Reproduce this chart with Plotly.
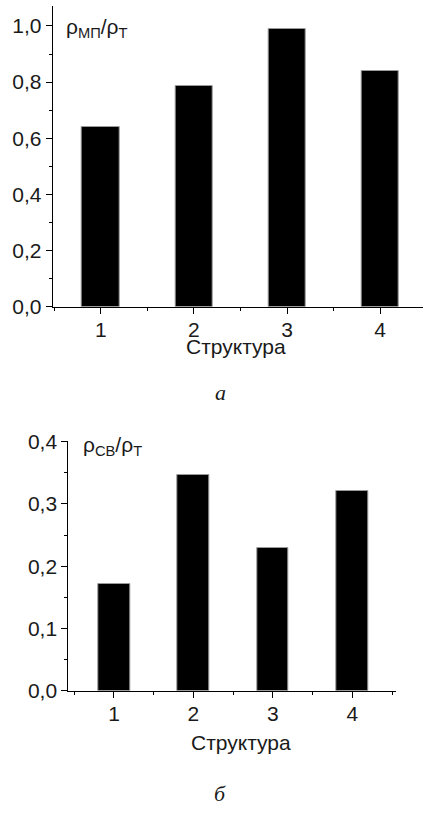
import plotly.graph_objects as go

W, H = 423, 814

structures = [1, 2, 3, 4]
tick_labels = ["1", "2", "3", "4"]
rho_mp = [0.639, 0.785, 0.990, 0.841]
rho_sv = [0.171, 0.346, 0.229, 0.320]
y_ticks_a = [0.0, 0.2, 0.4, 0.6, 0.8, 1.0]
y_ticks_b = [0.0, 0.1, 0.2, 0.3, 0.4]
x_title = "Структура"
y_title_a = "ρ<sub>МП</sub>/ρ<sub>Т</sub>"
y_title_b = "ρ<sub>СВ</sub>/ρ<sub>Т</sub>"
panel_a = "a"
panel_b = "б"

FONT = "Liberation Sans, Arial, sans-serif"
FS = 21


def px_x(x):
    return x / W


def px_y(y):
    return 1 - y / H


fig = go.Figure()
bar_style = dict(marker=dict(color="black", line=dict(color="#9a9a9a", width=1)),
                 width=0.4, showlegend=False, hoverinfo="skip")
fig.add_trace(go.Bar(x=structures, y=rho_mp, xaxis="x", yaxis="y", **bar_style))
fig.add_trace(go.Bar(x=structures, y=rho_sv, xaxis="x2", yaxis="y2", **bar_style))

common_x = dict(
    showline=True, linecolor="black", linewidth=1, showgrid=False, zeroline=False,
    ticks="outside", ticklen=6, tickwidth=1, tickcolor="black",
    tickvals=structures, ticktext=tick_labels,
    tickfont=dict(family=FONT, size=FS, color="#1a1a1a"),
    ticklabelstandoff=-2,
    minor=dict(ticks="outside", ticklen=3, tickwidth=1, tickcolor="black",
               tick0=0.5, dtick=0.5, showgrid=False),
    automargin=False, fixedrange=True,
)
common_y = dict(
    showline=True, linecolor="black", linewidth=1, showgrid=False, zeroline=False,
    ticks="outside", ticklen=6, tickwidth=1, tickcolor="black",
    tickformat=".1f",
    tickfont=dict(family=FONT, size=FS, color="#1a1a1a"),
    automargin=False, fixedrange=True,
)

# top panel plot area (pixels): x 52.7..423, y 6..306.7
fig.update_layout(
    xaxis=dict(domain=[px_x(52.7), 1.0], range=[0.484, 4.46], anchor="y", **common_x),
    yaxis=dict(domain=[px_y(306.7), px_y(6)], range=[0, 1.071], anchor="x",
               tickvals=y_ticks_a,
               minor=dict(ticks="outside", ticklen=3, tickwidth=1, tickcolor="black",
                          tick0=0, dtick=0.1, showgrid=False),
               **common_y),
    xaxis2=dict(domain=[px_x(68.3), px_x(396)], range=[0.425, 4.55], anchor="y2", **common_x),
    yaxis2=dict(domain=[px_y(690.7), px_y(441)], range=[0, 0.401], anchor="x2",
                tickvals=y_ticks_b,
                minor=dict(ticks="outside", ticklen=3, tickwidth=1, tickcolor="black",
                           tick0=0, dtick=0.05, showgrid=False),
                **common_y),
)

annotations = [
    dict(text=y_title_a, x=px_x(64), y=px_y(28), xanchor="left", yanchor="middle"),
    dict(text=y_title_b, x=px_x(81), y=px_y(446), xanchor="left", yanchor="middle"),
    dict(text=x_title, x=px_x(236), y=px_y(346), xanchor="center", yanchor="middle"),
    dict(text=x_title, x=px_x(241), y=px_y(742), xanchor="center", yanchor="middle"),
]
for a in annotations:
    a.update(xref="paper", yref="paper", showarrow=False,
             font=dict(family=FONT, size=FS, color="#1a1a1a"))
for txt, yy in [(panel_a, 392), (panel_b, 793)]:
    annotations.append(dict(text="<i>%s</i>" % txt, x=px_x(220), y=px_y(yy),
                            xref="paper", yref="paper", showarrow=False,
                            xanchor="center", yanchor="middle",
                            font=dict(family="Liberation Serif, Times New Roman, serif",
                                      size=22, color="#1a1a1a")))

fig.update_layout(
    width=W, height=H, autosize=False,
    margin=dict(l=0, r=0, t=0, b=0),
    paper_bgcolor="white", plot_bgcolor="white",
    separators=",.",
    annotations=annotations,
    bargap=0,
)

fig.write_html("out.html", config={"displayModeBar": False},
               post_script="document.body.style.margin='0';document.body.style.padding='0';")
